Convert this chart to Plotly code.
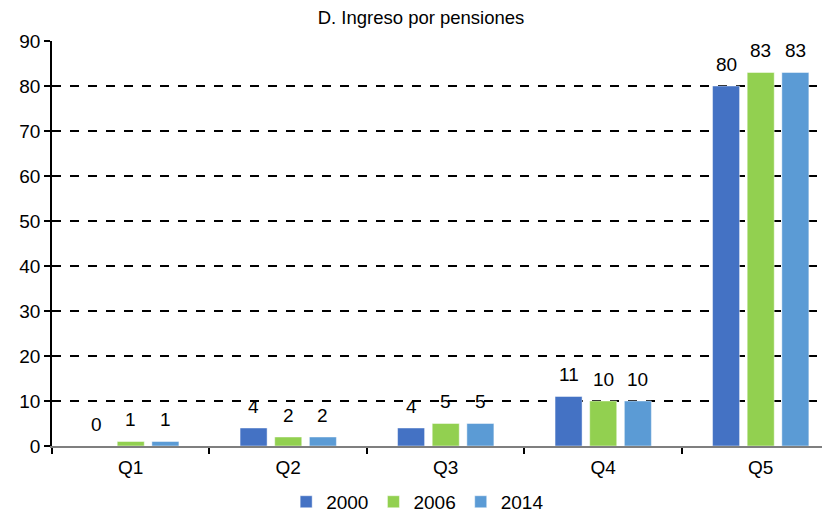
import plotly.graph_objects as go

categories = ["Q1", "Q2", "Q3", "Q4", "Q5"]
series_names = ["2000", "2006", "2014"]
v2000 = [0, 4, 4, 11, 80]
v2006 = [1, 2, 5, 10, 83]
v2014 = [1, 2, 5, 10, 83]
y_ticks = [0, 10, 20, 30, 40, 50, 60, 70, 80, 90]

colors = ["#4472C4", "#92D050", "#5B9BD5"]
values = [v2000, v2006, v2014]
FONT = "Liberation Sans, Arial, sans-serif"
FS = 19

bargap = 0.34
bargroupgap = 0.22

fig = go.Figure()
for name, vals, col in zip(series_names, values, colors):
    fig.add_trace(go.Bar(
        x=categories, y=vals, name=name,
        marker=dict(color=col, line=dict(color="rgba(255,255,255,0.45)", width=1)),
    ))

# data labels placed above each bar in its slot
slot = (1 - bargap) / len(series_names)
annotations = []
for j, vals in enumerate(values):
    off = (j - (len(series_names) - 1) / 2) * slot
    for i, v in enumerate(vals):
        annotations.append(dict(
            x=i + off, y=v, xref="x", yref="y", text=str(v),
            showarrow=False, yanchor="middle", yshift=22,
            font=dict(family=FONT, size=FS, color="#000"),
        ))

W, H = 822, 508
fig.update_layout(
    width=W, height=H,
    margin=dict(l=44, r=0, t=33, b=70, autoexpand=False),
    paper_bgcolor="white", plot_bgcolor="white",
    barmode="group", bargap=bargap, bargroupgap=bargroupgap,
    font=dict(family=FONT, size=FS, color="#000"),
    title=dict(text="D. Ingreso por pensiones", x=413 / W, xanchor="center",
               y=1 - 10 / H, yanchor="middle",
               font=dict(family=FONT, size=18.5, color="#000")),
    legend=dict(orientation="h", x=0.470, xanchor="center", y=-0.138, yanchor="middle",
                font=dict(family=FONT, size=FS), itemwidth=30, tracegroupgap=0),
    annotations=annotations,
    showlegend=True,
)
fig.update_xaxes(
    type="category", range=[-0.5, 4.44], automargin=False,
    showline=True, linecolor="#7f7f7f", linewidth=1.5,
    ticks="outside", tickson="boundaries", ticklen=6, tickcolor="#000", tickwidth=1.5,
    showgrid=False, tickfont=dict(size=FS), zeroline=False, ticklabelstandoff=3,
)
fig.update_yaxes(
    range=[0, 90], tickvals=y_ticks, automargin=False,
    showline=True, linecolor="#000", linewidth=1.5,
    ticks="outside", ticklen=6, tickcolor="#000", tickwidth=1.5,
    showgrid=True, gridcolor="#000", gridwidth=1.5, griddash="dash",
    zeroline=False, tickfont=dict(size=FS),
)

fig.write_html("out.html")
